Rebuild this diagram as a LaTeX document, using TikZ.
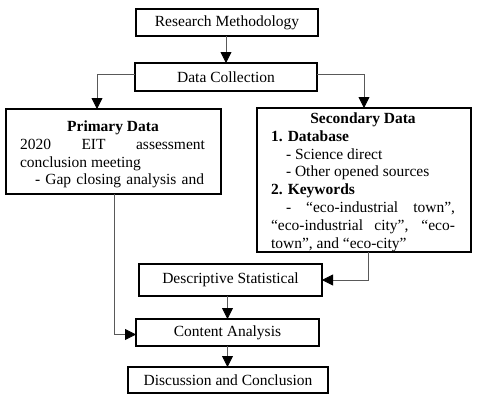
\documentclass[tikz,border=0pt]{standalone}
\usepackage{fontspec}
\setmainfont{Liberation Serif}
\usetikzlibrary{arrows.meta}
\begin{document}
\begin{tikzpicture}[x=1pt,y=-1pt,
  box/.style={draw=black, line width=1.8pt, inner sep=0pt, outer sep=0pt, font=\fontsize{15.5}{18}\selectfont},
  txt/.style={inner sep=0pt, outer sep=0pt, anchor=base west, font=\fontsize{15.5}{18}\selectfont},
  ctxt/.style={inner sep=0pt, outer sep=0pt, anchor=base, font=\fontsize{15.5}{18}\selectfont},
  conn/.style={draw=black!65, line width=0.8pt, -{Triangle[length=11pt,width=11pt,color=black]}}]
\useasboundingbox (0,0) rectangle (480,400);
% boxes
\node[box, minimum width=182pt, minimum height=27pt] (rm) at (227,22.5) {Research Methodology};
\node[box, minimum width=182pt, minimum height=28pt] (dc) at (226,77) {Data Collection};
\node[box, minimum width=215pt, minimum height=85pt] (pd) at (113.5,151.5) {};
\node[box, minimum width=214pt, minimum height=144pt] (sd) at (364,180) {};
\node[box, minimum width=183pt, minimum height=32pt] (ds) at (230.5,280) {Descriptive Statistical};
\node[box, minimum width=183pt, minimum height=27pt] (ca) at (227.5,332.5) {Content Analysis};
\node[box, minimum width=200pt, minimum height=26pt] (dn) at (228,380) {Discussion and Conclusion};
% primary text
\node[ctxt] (p1) at (113,131) {\textbf{Primary Data}};
\node[txt] (p2) at (20,149) {\makebox[185pt][s]{2020 EIT assessment}};
\node[txt] (p3) at (20,167) {conclusion meeting};
\node[txt] (p4) at (35,184) {\makebox[169pt][s]{- Gap closing analysis and}};
% secondary text
\node[ctxt] (s1) at (363,123) {\textbf{Secondary Data}};
\node[txt] (s2) at (271,141) {\textbf{1. Database}};
\node[txt] (s3) at (286,159) {- Science direct};
\node[txt] (s4) at (286,176) {- Other opened sources};
\node[txt] (s5) at (271,194) {\textbf{2. Keywords}};
\node[txt] (s6) at (286,212) {\makebox[169pt][s]{- “eco-industrial town”,}};
\node[txt] (s7) at (271,230) {\makebox[184pt][s]{“eco-industrial city”, “eco-}};
\node[txt] (s8) at (271,248) {town”, and “eco-city”};
% connectors
\coordinate (pl) at (97,0);
\coordinate (pdx) at (114,0);
\coordinate (sdx) at (368,0);
\draw[conn] (rm.south -| dc.north) -- (dc.north);
\draw[conn] ([yshift=3pt]dc.west) -| (pd.north -| pl);
\draw[conn] ([yshift=3pt]dc.east) -| (sd.north);
\draw[conn] (pd.south -| pdx) |- ([yshift=-2pt]ca.west);
\draw[conn] (sd.south -| sdx) |- (ds.east);
\draw[conn] (ca.north |- ds.south) -- (ca.north);
\draw[conn] (ca.south) -- (ca.south |- dn.north);
\end{tikzpicture}
\end{document}
